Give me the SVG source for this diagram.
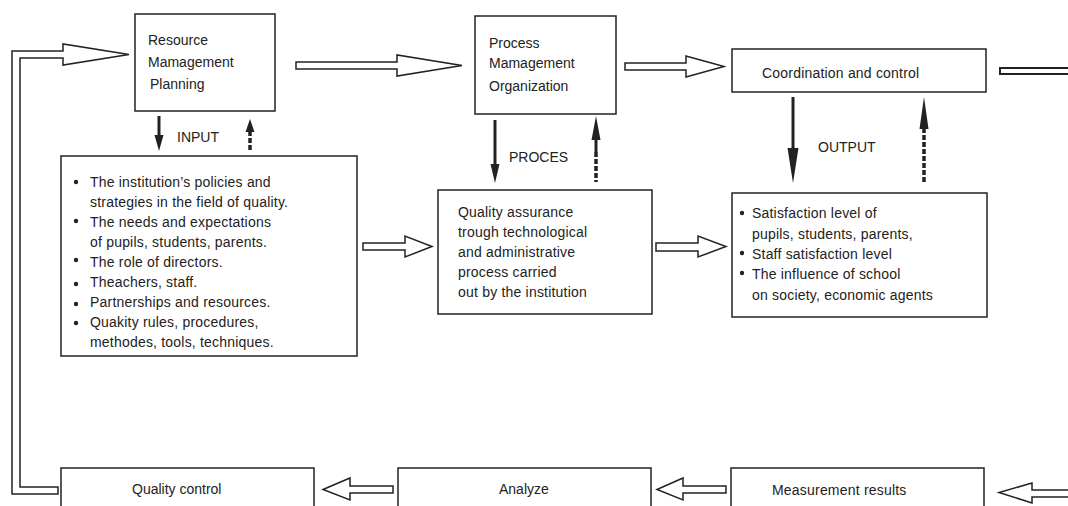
<svg xmlns="http://www.w3.org/2000/svg" width="1068" height="506" viewBox="0 0 1068 506">
<style>
.box{fill:#fff;stroke:#222;stroke-width:1.5}
.t{font-family:"Liberation Sans",Arial,sans-serif;font-size:14px;fill:#222}
.ls{letter-spacing:0.2px}
.hollow{fill:#fff;stroke:#222;stroke-width:1.5;stroke-linejoin:miter}
.solid{stroke:#222;stroke-width:3}
.dash{stroke:#222;stroke-width:3.5;stroke-dasharray:5 2}
.head{fill:#222}
.dot{fill:#222}
</style>
<rect width="1068" height="506" fill="#fff"/>
<g id="connectors">
<path class="hollow" d="M58,494 L12,494 L12,51 L63,51 L63,44 L129,54.5 L63,65 L63,58 L20,58 L20,487 L58,487 Z"/>
<path class="hollow" d="M296,62 L397,62 L397,55 L462,65.5 L397,76 L397,69 L296,69 Z"/>
<path class="hollow" d="M625,63 L686,63 L686,56 L724,66.5 L686,77 L686,70 L625,70 Z"/>
<path d="M1068,68 L1000,68 L1000,74 L1068,74" fill="#fff" stroke="#222" stroke-width="2"/>
<path class="hollow" d="M363,243 L405,243 L405,236 L432,246.5 L405,257 L405,250 L363,250 Z"/>
<path class="hollow" d="M656,243 L698,243 L698,236 L726,246.5 L698,257 L698,251 L656,251 Z"/>
<path class="hollow" d="M393,486 L350,486 L350,478 L323,489.5 L350,500 L350,493 L393,493 Z"/>
<path class="hollow" d="M726,486 L683,486 L683,478 L657,489.5 L683,500 L683,493 L726,493 Z"/>
<path class="hollow" d="M1068,490 L1032,490 L1032,483 L999,492.5 L1032,503 L1032,497 L1068,497"/>
<line class="solid" x1="159" y1="116" x2="159" y2="137"/>
<polygon class="head" points="154.5,135 163.5,135 159,151"/>
<line class="dash" x1="250" y1="131" x2="250" y2="150"/>
<polygon class="head" points="245.5,132 254.5,132 250,119"/>
<line class="solid" x1="596" y1="138" x2="596" y2="152"/>
<line class="dash" x1="596" y1="152" x2="596" y2="182"/>
<polygon class="head" points="591.5,140 600.5,140 596,116"/>
<line class="solid" x1="495" y1="120" x2="495" y2="166"/>
<polygon class="head" points="490.5,164 499.5,164 495,183"/>
<line class="solid" x1="793" y1="97" x2="793" y2="150"/>
<polygon class="head" points="787.5,148 798.5,148 793,183"/>
<line class="dash" x1="924" y1="128" x2="924" y2="182"/>
<polygon class="head" points="919.5,129 928.5,129 924,97"/>
</g>
<g id="resource">
<rect class="box" x="135" y="14" width="140" height="97"/>
<text class="t" x="148" y="45">Resource</text>
<text class="t" x="148" y="67">Mamagement</text>
<text class="t" x="150" y="89">Planning</text>
</g>
<g id="process">
<rect class="box" x="475" y="16" width="141" height="98"/>
<text class="t" x="489" y="48">Process</text>
<text class="t" x="489" y="68">Mamagement</text>
<text class="t" x="489" y="91">Organization</text>
</g>
<g id="coordination">
<rect class="box" x="732" y="49" width="254" height="43"/>
<text class="t ls" x="762" y="78">Coordination and control</text>
</g>
<g id="labels">
<text class="t" x="177" y="142">INPUT</text>
<text class="t" x="509" y="162">PROCES</text>
<text class="t" x="818" y="152">OUTPUT</text>
</g>
<g id="input">
<rect class="box" x="61" y="156" width="296" height="200"/>
<circle class="dot" cx="76" cy="182" r="2.2"/>
<circle class="dot" cx="76" cy="221" r="2.2"/>
<circle class="dot" cx="76" cy="260" r="2.2"/>
<circle class="dot" cx="76" cy="284" r="2.2"/>
<circle class="dot" cx="76" cy="304" r="2.2"/>
<circle class="dot" cx="76" cy="323" r="2.2"/>
<text class="t ls" x="90" y="187">The institution’s policies and</text>
<text class="t ls" x="90" y="207">strategies in the field of quality.</text>
<text class="t ls" x="90" y="227">The needs and expectations</text>
<text class="t ls" x="90" y="247">of pupils, students, parents.</text>
<text class="t ls" x="90" y="267">The role of directors.</text>
<text class="t ls" x="90" y="287">Theachers, staff.</text>
<text class="t ls" x="90" y="307">Partnerships and resources.</text>
<text class="t ls" x="90" y="327">Quakity rules, procedures,</text>
<text class="t ls" x="90" y="347">methodes, tools, techniques.</text>
</g>
<g id="quality-assurance">
<rect class="box" x="438" y="190" width="214" height="124"/>
<text class="t ls" x="458" y="217">Quality assurance</text>
<text class="t ls" x="458" y="237">trough technological</text>
<text class="t ls" x="458" y="257">and administrative</text>
<text class="t ls" x="458" y="277">process carried</text>
<text class="t ls" x="458" y="297">out by the institution</text>
</g>
<g id="output">
<rect class="box" x="732" y="193" width="255" height="124"/>
<circle class="dot" cx="742" cy="213" r="2.2"/>
<circle class="dot" cx="742" cy="253" r="2.2"/>
<circle class="dot" cx="742" cy="273" r="2.2"/>
<text class="t ls" x="752" y="218">Satisfaction level of</text>
<text class="t ls" x="752" y="239">pupils, students, parents,</text>
<text class="t ls" x="752" y="259">Staff satisfaction level</text>
<text class="t ls" x="752" y="279">The influence of school</text>
<text class="t ls" x="752" y="300">on society, economic agents</text>
</g>
<g id="quality-control">
<rect class="box" x="61" y="468" width="253" height="50"/>
<text class="t" x="132" y="494">Quality control</text>
</g>
<g id="analyze">
<rect class="box" x="398" y="468" width="253" height="50"/>
<text class="t" x="499" y="494">Analyze</text>
</g>
<g id="measurement">
<rect class="box" x="731" y="468" width="253" height="50"/>
<text class="t ls" x="772" y="495">Measurement results</text>
</g>
</svg>
